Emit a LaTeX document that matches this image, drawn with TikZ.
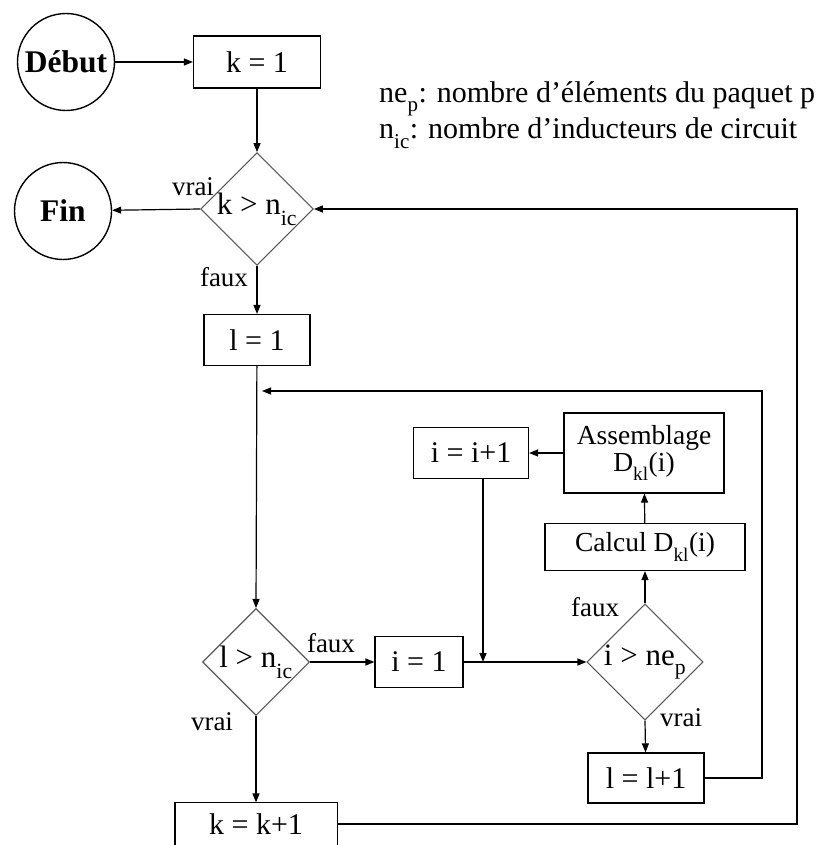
\documentclass[tikz,border=0pt]{standalone}
\usepackage{fontspec}
\setmainfont{Liberation Serif}
\usetikzlibrary{shapes.geometric,arrows.meta}
\newcommand{\lsub}[1]{\raisebox{-0.35ex}{\textsubscript{#1}}}
\tikzset{
  box/.style={draw=black, line width=1.2pt, rectangle, inner sep=0pt, font=\fontsize{30}{32}\selectfont, align=center},
  bigbox/.style={box, font=\fontsize{27.5}{30}\selectfont},
  circ/.style={draw=black, line width=1.4pt, circle, inner sep=0pt, minimum size=97pt, font=\fontsize{31.5}{33}\selectfont\bfseries},
  dia/.style={draw=black!65, line width=1.1pt, diamond, aspect=1, inner sep=0pt, minimum size=107pt, font=\fontsize{31}{33}\selectfont},
  lbl/.style={inner sep=0pt, font=\fontsize{27}{29}\selectfont},
  leg/.style={inner sep=0pt, anchor=west, font=\fontsize{30}{31}\selectfont},
  arr/.style={draw=black, line width=1.2pt, -{Triangle[length=9pt,width=7pt]}},
  ln/.style={draw=black, line width=1.2pt}
}
\begin{document}
\begin{tikzpicture}[x=1pt,y=-1pt]
\clip (0,0) rectangle (830,845);
\fill[white] (0,0) rectangle (830,845);
% nodes
\node[circ] (debut) at (66,62) {Début};
\node[box, minimum width=127pt, minimum height=52pt] (k1) at (257,62) {k = 1};
\node[dia] (d1) at (257,209) {k > n\lsub{ic}};
\node[circ] (fin) at (63,211) {Fin};
\node[box, minimum width=106pt, minimum height=51pt] (l1) at (257,340) {l = 1};
\node[box, minimum width=115pt, minimum height=51pt] (ii1) at (471,453) {i = i+1};
\node[bigbox, minimum width=160pt, minimum height=80pt] (asm) at (644,453) {Assemblage\\[-3pt] D\lsub{kl}(i)};
\node[bigbox, minimum width=200pt, minimum height=47pt] (calc) at (645,547) {Calcul D\lsub{kl}(i)};
\node[dia] (d2) at (256,662) {l > n\lsub{ic}};
\node[box, minimum width=88pt, minimum height=51pt] (i1) at (419,662) {i = 1};
\node[dia, minimum size=110pt] (d3) at (645,662) {i > ne\lsub{p}};
\node[box, minimum width=116pt, minimum height=50pt] (ll1) at (646,778) {l = l+1};
\node[box, draw=none, minimum width=161pt, minimum height=42pt] (kk1) at (256,824) {k = k+1};
\draw[ln] (kk1.south west) -- (kk1.north west) -- (kk1.north east) -- (kk1.south east);
% legend
\node[leg] (lg1) at (379,99) {ne\lsub{p}: nombre d’éléments du paquet p};
\node[leg] (lg2) at (379,133) {n\lsub{ic}: nombre d’inducteurs de circuit};
% labels
\node[lbl] (v1) at (193,187) {vrai};
\node[lbl] (f1) at (224,277) {faux};
\node[lbl] (f2) at (331,643) {faux};
\node[lbl] (v2) at (212,722) {vrai};
\node[lbl] (f3) at (595,607) {faux};
\node[lbl] (v3) at (681,718) {vrai};
% helper coordinates
\coordinate (c1) at (762,391);
\coordinate (c2) at (797,209);
\coordinate (m) at (483,662);
% connectors
\draw[arr] (debut) -- (k1);
\draw[arr] (k1) -- (d1);
\draw[arr] (d1.west) -- (fin);
\draw[arr] (d1.south) -- (l1);
\draw[arr] (l1) -- (d2.north);
\draw[arr] (d2.south) -- (kk1.north);
\draw[arr] (d2.east) -- (i1);
\draw[arr] (i1.east) -- (d3.west);
\draw[arr] (ii1.south -| m) -- (m);
\draw[arr] (d3.north) -- (calc);
\draw[arr] (calc) -- (asm);
\draw[arr] (asm) -- (ii1);
\draw[arr] (d3.south) -- (ll1);
\draw[arr, shorten >=5pt] (ll1.east) -| (c1) -- (c1 -| l1.south);
\draw[arr] (kk1.east) -| (c2) -- (d1.east);
\end{tikzpicture}
\end{document}
